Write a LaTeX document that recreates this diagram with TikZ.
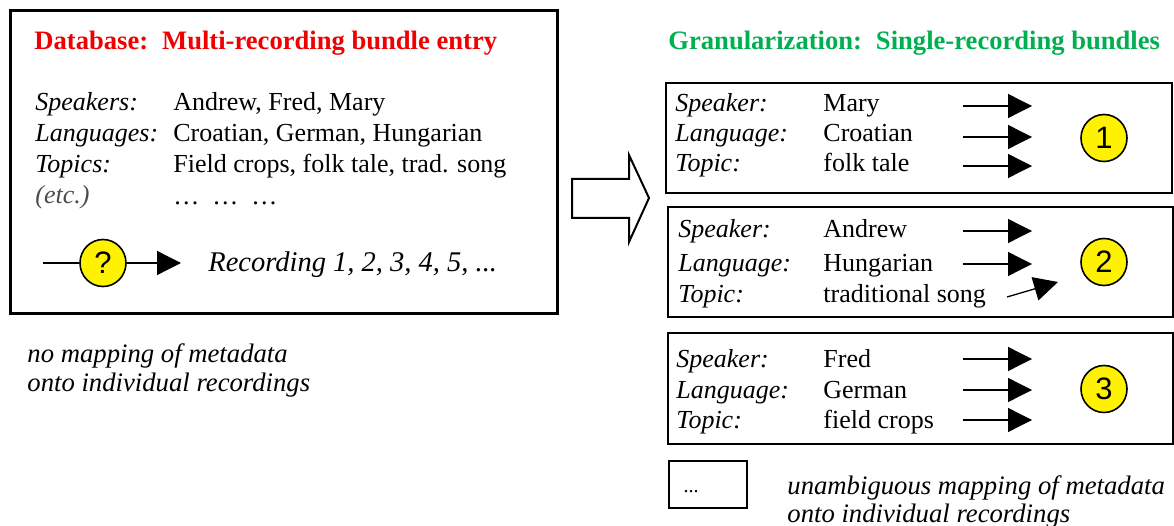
\documentclass[tikz,border=0pt]{standalone}
\usepackage{fontspec}
\setmainfont{Liberation Serif}
\newfontfamily\numfont{Liberation Sans}
\usetikzlibrary{arrows.meta,shapes.geometric}

\definecolor{dbred}{RGB}{240,0,0}
\definecolor{grgreen}{RGB}{0,176,80}

\begin{document}
\begin{tikzpicture}[x=1pt, y=-1pt, line width=0.8pt,
  every node/.style={font=\fontsize{26}{30}\selectfont, inner sep=0pt},
  field/.style={anchor=base west, font=\fontsize{26}{30}\selectfont\itshape},
  note/.style={anchor=base west, font=\fontsize{26.7}{30}\selectfont\itshape},
  entry/.style={anchor=base west},
  heading/.style={anchor=base west, font=\fontsize{26.6}{30}\selectfont\bfseries},
  marker/.style={ellipse, draw, line width=1.6pt, fill=yellow, minimum width=46pt, minimum height=47pt,
    font=\fontsize{31}{31}\selectfont\numfont},
  maparrow/.style={line width=1.3pt, -{Triangle[length=24pt,width=24pt]}},
  bundle/.style={line width=1.8pt}]

\useasboundingbox (0,0) rectangle (1174,526);

% Database box
\draw[line width=3pt] (10,11) rectangle (557,313);
\node[heading, text=dbred] (dbhead) at (34,50) {Database:\hspace{14pt}Multi-recording bundle entry};

\node[field] (fspk) at (35,111) {Speakers:};
\node[field] (flng) at (35,142) {Languages:};
\node[field] (ftop) at (35,173) {Topics:};
\node[field, text=black!70] (fetc) at (35,204) {(etc.)};
\node[entry] (vspk) at (173,111) {Andrew, Fred, Mary};
\node[entry] (vlng) at (173,142) {Croatian, German, Hungarian};
\node[entry] (vtop) at (173,173) {Field crops, folk tale, trad. song};
\node[entry] (vetc) at (173,205) {…\hspace{13pt}…\hspace{13pt}…};

% Unknown mapping
\coordinate (qin) at (43,263);
\node[marker] (qmark) at (103,263) {?};
\coordinate (qout) at (181,263);
\draw[line width=1.3pt] (qin) -- (qmark.west);
\draw[maparrow] (qmark.east) -- (qout);
\node[field, font=\fontsize{28.5}{30}\selectfont\itshape] (recs) at (208,272) {Recording 1, 2, 3, 4, 5, ...};

\node[note] (nomap1) at (27,362) {no mapping of metadata};
\node[note] (nomap2) at (27,391) {onto individual recordings};

% Hollow arrow
\draw[line width=2pt, line join=miter] (572,179) -- (629,179) -- (629,155) -- (649,198)
  -- (629,242) -- (629,218) -- (572,218) -- cycle;

% Granularization
\node[heading, text=grgreen] (grhead) at (668,50) {Granularization:\hspace{14pt}Single-recording bundles};

\draw[bundle] (666,83) rectangle (1172,193);
\draw[bundle] (668,207) rectangle (1173,317);
\draw[bundle] (668,333) rectangle (1173,444);

\foreach \i/\x/\ya/\yb/\yc/\spk/\lng/\top in {
    1/675/112/142/172/Mary/Croatian/folk tale,
    2/678/238/272/302/Andrew/Hungarian/traditional song,
    3/676/367/398/428/Fred/German/field crops} {
  \node[field] (fspk\i) at (\x,\ya) {Speaker:};
  \node[field] (flng\i) at (\x,\yb) {Language:};
  \node[field] (ftop\i) at (\x,\yc) {Topic:};
  \node[entry] (vspk\i) at (823,\ya) {\spk};
  \node[entry] (vlng\i) at (823,\yb) {\lng};
  \node[entry] (vtop\i) at (823,\yc) {\top};
}

\node[marker] (m1) at (1104,138) {1};
\node[marker] (m2) at (1104,262) {2};
\node[marker] (m3) at (1104,389) {3};

% Mapping arrows
\foreach \i/\y in {1/106, 2/137, 3/166, 4/231, 5/264, 7/359, 8/390, 9/420} {
  \coordinate (ain\i) at (963,\y);
  \coordinate (aout\i) at (1032,\y);
  \draw[maparrow] (ain\i) -- (aout\i);
}
\coordinate (ain6) at (1007,297);
\coordinate (aout6) at (1058,282);
\draw[maparrow] (ain6) -- (aout6);

% Legend
\draw[line width=1.5pt] (669,461) rectangle (747,508);
\node[font=\fontsize{20}{20}\selectfont, anchor=base] (etcbox) at (691,492) {...};
\node[note] (map1) at (787,494) {unambiguous mapping of metadata};
\node[note] (map2) at (787,522) {onto individual recordings};

\end{tikzpicture}
\end{document}
